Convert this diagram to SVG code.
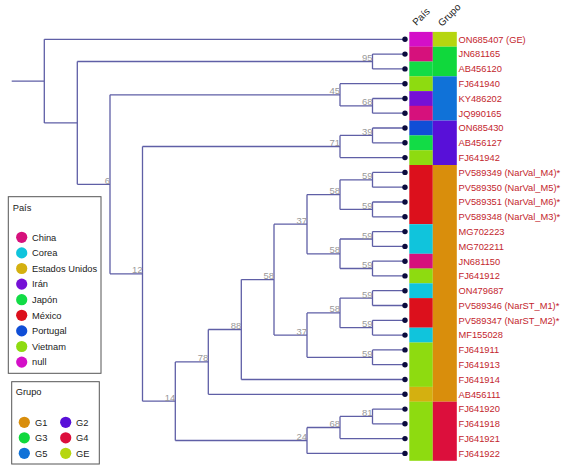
<svg xmlns="http://www.w3.org/2000/svg" width="565" height="467" viewBox="0 0 565 467">
<style>
.br{fill:none;stroke:#5f5fa6;stroke-width:1.3}
.tip{fill:#0b0b3d}
.lab{font-family:"Liberation Sans",Arial,sans-serif;font-size:9.3px;fill:#c3252d}
.sup{font-family:"Liberation Sans",Arial,sans-serif;font-size:9.5px;fill:#999;text-anchor:end}
.hdr{font-family:"Liberation Sans",Arial,sans-serif;font-size:9.8px;fill:#222}
.lg{font-family:"Liberation Sans",Arial,sans-serif;font-size:9.3px;fill:#1a1a1a}
.box{fill:#fff;stroke:#555;stroke-width:1}
.null{fill:#d40fc8}.china{fill:#d6117c}.japon{fill:#12dc46}.vietnam{fill:#8edb10}.iran{fill:#7510d6}.portugal{fill:#104ed6}.mexico{fill:#dc101c}.corea{fill:#10c4dc}.eeuu{fill:#d4b010}
.gGE{fill:#b6d610}.gG3{fill:#10d83c}.gG5{fill:#1072d8}.gG2{fill:#5810d8}.gG1{fill:#d98e0c}.gG4{fill:#dc0f3c}
</style>
<rect width="565" height="467" fill="#fff"/>
<g id="connectors" class="br">
<path d="M11.7,81.1H44.3M44.3,39.3V122.9M44.3,39.3H405M44.3,122.9H77.3"/>
<path d="M77.3,61.5V184.3M77.3,61.5H372.5M77.3,184.3H110"/>
<path d="M372.5,54.1V68.9M372.5,54.1H405M372.5,68.9H405"/>
<path d="M110,94.8V273.8M110,94.8H340M110,273.8H142.5"/>
<path d="M340,83.7V105.9M340,83.7H405M340,105.9H372.5"/>
<path d="M372.5,98.5V113.2M372.5,98.5H405M372.5,113.2H405"/>
<path d="M142.5,146.5V401.2M142.5,146.5H340M142.5,401.2H175.3"/>
<path d="M340,135.4V157.6M340,135.4H372.5M340,157.6H405"/>
<path d="M372.5,128V142.8M372.5,128H405M372.5,142.8H405"/>
<path d="M175.3,361.9V440.5M175.3,361.9H208.3M175.3,440.5H307"/>
<path d="M208.3,329.5V394.3M208.3,329.5H241.3M208.3,394.3H405"/>
<path d="M241.3,279.6V379.5M241.3,279.6H274M241.3,379.5H405"/>
<path d="M274,224.2V335.1M274,224.2H307M274,335.1H307"/>
<path d="M307,194.6V253.8M307,194.6H340M307,253.8H340"/>
<path d="M340,179.8V209.4M340,179.8H372.5M340,209.4H372.5"/>
<path d="M372.5,172.4V187.2M372.5,172.4H405M372.5,187.2H405"/>
<path d="M372.5,202V216.8M372.5,202H405M372.5,216.8H405"/>
<path d="M340,239V268.5M340,239H372.5M340,268.5H372.5"/>
<path d="M372.5,231.6V246.4M372.5,231.6H405M372.5,246.4H405"/>
<path d="M372.5,261.2V275.9M372.5,261.2H405M372.5,275.9H405"/>
<path d="M307,312.9V357.3M307,312.9H340M307,357.3H372.5"/>
<path d="M340,298.1V327.7M340,298.1H372.5M340,327.7H372.5"/>
<path d="M372.5,290.7V305.5M372.5,290.7H405M372.5,305.5H405"/>
<path d="M372.5,320.3V335.1M372.5,320.3H405M372.5,335.1H405"/>
<path d="M372.5,349.9V364.7M372.5,349.9H405M372.5,364.7H405"/>
<path d="M307,427.5V453.4M307,427.5H340M307,453.4H405"/>
<path d="M340,416.4V438.6M340,416.4H372.5M340,438.6H405"/>
<path d="M372.5,409.1V423.8M372.5,409.1H405M372.5,423.8H405"/>
</g>
<g id="support-values">
<g id="n95"><text class="sup" x="372.5" y="61">95</text></g>
<g id="n45"><text class="sup" x="340" y="94.3">45</text></g>
<g id="n68a"><text class="sup" x="372.5" y="105.4">68</text></g>
<g id="n39"><text class="sup" x="372.5" y="134.9">39</text></g>
<g id="n71"><text class="sup" x="340" y="146">71</text></g>
<g id="n6"><text class="sup" x="110" y="183.8">6</text></g>
<g id="n12"><text class="sup" x="142.5" y="273.3">12</text></g>
<g id="n58a"><text class="sup" x="340" y="194.1">58</text></g>
<g id="n59a"><text class="sup" x="372.5" y="179.3">59</text></g>
<g id="n59b"><text class="sup" x="372.5" y="208.9">59</text></g>
<g id="n37a"><text class="sup" x="307" y="223.7">37</text></g>
<g id="n58b"><text class="sup" x="340" y="253.3">58</text></g>
<g id="n59c"><text class="sup" x="372.5" y="238.5">59</text></g>
<g id="n59d"><text class="sup" x="372.5" y="268">59</text></g>
<g id="n58big"><text class="sup" x="274" y="279.1">58</text></g>
<g id="n88"><text class="sup" x="241.3" y="329">88</text></g>
<g id="n58c"><text class="sup" x="340" y="312.4">58</text></g>
<g id="n59e"><text class="sup" x="372.5" y="297.6">59</text></g>
<g id="n59f"><text class="sup" x="372.5" y="327.2">59</text></g>
<g id="n37b"><text class="sup" x="307" y="334.6">37</text></g>
<g id="n59g"><text class="sup" x="372.5" y="356.8">59</text></g>
<g id="n78"><text class="sup" x="208.3" y="361.4">78</text></g>
<g id="n14"><text class="sup" x="175.3" y="400.7">14</text></g>
<g id="n24"><text class="sup" x="307" y="440">24</text></g>
<g id="n68b"><text class="sup" x="340" y="427">68</text></g>
<g id="n81"><text class="sup" x="372.5" y="415.9">81</text></g>
</g>
<g id="header">
<text class="hdr" x="416.5" y="26" transform="rotate(-45 416.5 26)">País</text>
<text class="hdr" x="442" y="27" transform="rotate(-45 442 27)">Grupo</text>
</g>
<g id="strip-pais">
<rect class="null" x="409.3" y="31.9" width="23.5" height="14.9"/>
<rect class="china" x="409.3" y="46.7" width="23.5" height="14.9"/>
<rect class="japon" x="409.3" y="61.5" width="23.5" height="14.9"/>
<rect class="vietnam" x="409.3" y="76.3" width="23.5" height="14.9"/>
<rect class="iran" x="409.3" y="91.1" width="23.5" height="14.9"/>
<rect class="china" x="409.3" y="105.8" width="23.5" height="14.9"/>
<rect class="portugal" x="409.3" y="120.6" width="23.5" height="14.9"/>
<rect class="japon" x="409.3" y="135.4" width="23.5" height="14.9"/>
<rect class="vietnam" x="409.3" y="150.2" width="23.5" height="14.9"/>
<rect class="mexico" x="409.3" y="165" width="23.5" height="59.2"/>
<rect class="corea" x="409.3" y="224.2" width="23.5" height="29.6"/>
<rect class="china" x="409.3" y="253.8" width="23.5" height="14.9"/>
<rect class="vietnam" x="409.3" y="268.5" width="23.5" height="14.9"/>
<rect class="corea" x="409.3" y="283.3" width="23.5" height="14.9"/>
<rect class="mexico" x="409.3" y="298.1" width="23.5" height="29.6"/>
<rect class="corea" x="409.3" y="327.7" width="23.5" height="14.9"/>
<rect class="vietnam" x="409.3" y="342.5" width="23.5" height="44.4"/>
<rect class="eeuu" x="409.3" y="386.9" width="23.5" height="14.9"/>
<rect class="vietnam" x="409.3" y="401.7" width="23.5" height="59.1"/>
</g>
<g id="strip-grupo">
<rect class="gGE" x="432.8" y="31.9" width="24" height="14.8"/>
<rect class="gG3" x="432.8" y="46.7" width="24" height="29.6"/>
<rect class="gG5" x="432.8" y="76.3" width="24" height="44.3"/>
<rect class="gG2" x="432.8" y="120.6" width="24" height="44.4"/>
<rect class="gG1" x="432.8" y="165" width="24" height="236.7"/>
<rect class="gG4" x="432.8" y="401.7" width="24" height="59.1"/>
</g>
<g id="tips">
<g id="t1"><circle class="tip" cx="405" cy="39.3" r="2.7"/><text class="lab" x="458.5" y="42.6">ON685407 (GE)</text></g>
<g id="t2"><circle class="tip" cx="405" cy="54.1" r="2.7"/><text class="lab" x="458.5" y="57.4">JN681165</text></g>
<g id="t3"><circle class="tip" cx="405" cy="68.9" r="2.7"/><text class="lab" x="458.5" y="72.2">AB456120</text></g>
<g id="t4"><circle class="tip" cx="405" cy="83.7" r="2.7"/><text class="lab" x="458.5" y="87">FJ641940</text></g>
<g id="t5"><circle class="tip" cx="405" cy="98.5" r="2.7"/><text class="lab" x="458.5" y="101.8">KY486202</text></g>
<g id="t6"><circle class="tip" cx="405" cy="113.2" r="2.7"/><text class="lab" x="458.5" y="116.5">JQ990165</text></g>
<g id="t7"><circle class="tip" cx="405" cy="128" r="2.7"/><text class="lab" x="458.5" y="131.3">ON685430</text></g>
<g id="t8"><circle class="tip" cx="405" cy="142.8" r="2.7"/><text class="lab" x="458.5" y="146.1">AB456127</text></g>
<g id="t9"><circle class="tip" cx="405" cy="157.6" r="2.7"/><text class="lab" x="458.5" y="160.9">FJ641942</text></g>
<g id="t10"><circle class="tip" cx="405" cy="172.4" r="2.7"/><text class="lab" x="458.5" y="175.7">PV589349 (NarVal_M4)*</text></g>
<g id="t11"><circle class="tip" cx="405" cy="187.2" r="2.7"/><text class="lab" x="458.5" y="190.5">PV589350 (NarVal_M5)*</text></g>
<g id="t12"><circle class="tip" cx="405" cy="202" r="2.7"/><text class="lab" x="458.5" y="205.3">PV589351 (NarVal_M6)*</text></g>
<g id="t13"><circle class="tip" cx="405" cy="216.8" r="2.7"/><text class="lab" x="458.5" y="220.1">PV589348 (NarVal_M3)*</text></g>
<g id="t14"><circle class="tip" cx="405" cy="231.6" r="2.7"/><text class="lab" x="458.5" y="234.9">MG702223</text></g>
<g id="t15"><circle class="tip" cx="405" cy="246.4" r="2.7"/><text class="lab" x="458.5" y="249.7">MG702211</text></g>
<g id="t16"><circle class="tip" cx="405" cy="261.2" r="2.7"/><text class="lab" x="458.5" y="264.5">JN681150</text></g>
<g id="t17"><circle class="tip" cx="405" cy="275.9" r="2.7"/><text class="lab" x="458.5" y="279.2">FJ641912</text></g>
<g id="t18"><circle class="tip" cx="405" cy="290.7" r="2.7"/><text class="lab" x="458.5" y="294">ON479687</text></g>
<g id="t19"><circle class="tip" cx="405" cy="305.5" r="2.7"/><text class="lab" x="458.5" y="308.8">PV589346 (NarST_M1)*</text></g>
<g id="t20"><circle class="tip" cx="405" cy="320.3" r="2.7"/><text class="lab" x="458.5" y="323.6">PV589347 (NarST_M2)*</text></g>
<g id="t21"><circle class="tip" cx="405" cy="335.1" r="2.7"/><text class="lab" x="458.5" y="338.4">MF155028</text></g>
<g id="t22"><circle class="tip" cx="405" cy="349.9" r="2.7"/><text class="lab" x="458.5" y="353.2">FJ641911</text></g>
<g id="t23"><circle class="tip" cx="405" cy="364.7" r="2.7"/><text class="lab" x="458.5" y="368">FJ641913</text></g>
<g id="t24"><circle class="tip" cx="405" cy="379.5" r="2.7"/><text class="lab" x="458.5" y="382.8">FJ641914</text></g>
<g id="t25"><circle class="tip" cx="405" cy="394.3" r="2.7"/><text class="lab" x="458.5" y="397.6">AB456111</text></g>
<g id="t26"><circle class="tip" cx="405" cy="409.1" r="2.7"/><text class="lab" x="458.5" y="412.4">FJ641920</text></g>
<g id="t27"><circle class="tip" cx="405" cy="423.8" r="2.7"/><text class="lab" x="458.5" y="427.1">FJ641918</text></g>
<g id="t28"><circle class="tip" cx="405" cy="438.6" r="2.7"/><text class="lab" x="458.5" y="441.9">FJ641921</text></g>
<g id="t29"><circle class="tip" cx="405" cy="453.4" r="2.7"/><text class="lab" x="458.5" y="456.7">FJ641922</text></g>
</g>
<g id="legend-pais">
<rect class="box" x="8.3" y="196.7" width="92.7" height="176.6"/>
<text class="lg" x="12.7" y="210.5">País</text>
<circle class="china" cx="21.7" cy="237.3" r="5.6"/><text class="lg" x="32" y="240.6">China</text>
<circle class="corea" cx="21.7" cy="252.9" r="5.6"/><text class="lg" x="32" y="256.2">Corea</text>
<circle class="eeuu" cx="21.7" cy="268.5" r="5.6"/><text class="lg" x="32" y="271.8">Estados Unidos</text>
<circle class="iran" cx="21.7" cy="284.1" r="5.6"/><text class="lg" x="32" y="287.4">Irán</text>
<circle class="japon" cx="21.7" cy="299.7" r="5.6"/><text class="lg" x="32" y="303">Japón</text>
<circle class="mexico" cx="21.7" cy="315.3" r="5.6"/><text class="lg" x="32" y="318.6">México</text>
<circle class="portugal" cx="21.7" cy="330.9" r="5.6"/><text class="lg" x="32" y="334.2">Portugal</text>
<circle class="vietnam" cx="21.7" cy="346.5" r="5.6"/><text class="lg" x="32" y="349.8">Vietnam</text>
<circle class="null" cx="21.7" cy="362.1" r="5.6"/><text class="lg" x="32" y="365.4">null</text>
</g>
<g id="legend-grupo">
<rect class="box" x="11.7" y="381.7" width="87.6" height="82.3"/>
<text class="lg" x="15.7" y="395.3">Grupo</text>
<circle class="gG1" cx="24.3" cy="422.3" r="5.6"/><text class="lg" x="35" y="425.6">G1</text>
<circle class="gG2" cx="65.7" cy="422.3" r="5.6"/><text class="lg" x="76" y="425.6">G2</text>
<circle class="gG3" cx="24.3" cy="437.8" r="5.6"/><text class="lg" x="35" y="441.1">G3</text>
<circle class="gG4" cx="65.7" cy="437.8" r="5.6"/><text class="lg" x="76" y="441.1">G4</text>
<circle class="gG5" cx="24.3" cy="453.3" r="5.6"/><text class="lg" x="35" y="456.6">G5</text>
<circle class="gGE" cx="65.7" cy="453.3" r="5.6"/><text class="lg" x="76" y="456.6">GE</text>
</g>
</svg>
